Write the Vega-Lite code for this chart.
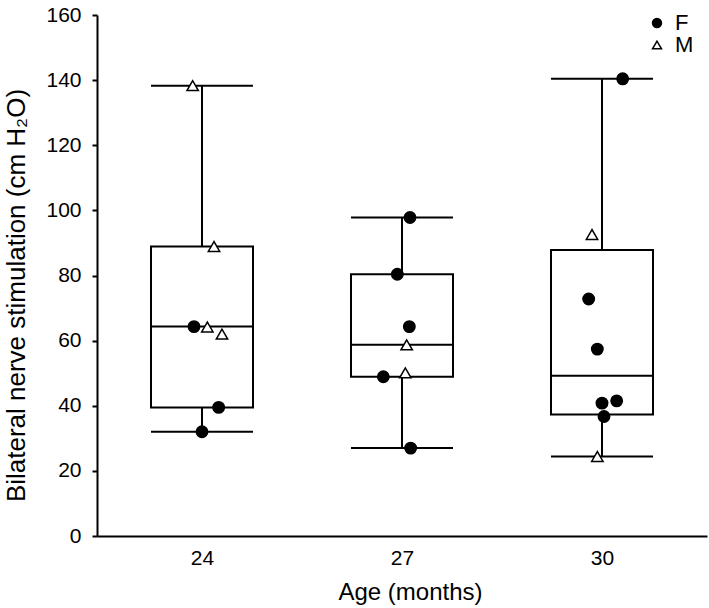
{
  "$schema": "https://vega.github.io/schema/vega-lite/v6.json",
  "width": 610,
  "height": 521,
  "autosize": {"type": "none"},
  "padding": {"left": 97, "top": 15, "right": 2, "bottom": 72},
  "background": "white",
  "config": {
    "view": {"stroke": null},
    "font": "Liberation Sans",
    "axis": {
      "domainColor": "black",
      "domainWidth": 2,
      "tickColor": "black",
      "tickWidth": 2,
      "labelColor": "black",
      "titleColor": "black",
      "grid": false,
      "labelFont": "Liberation Sans",
      "titleFont": "Liberation Sans",
      "titleFontWeight": "normal"
    },
    "legend": {
      "padding": 0,
      "rowPadding": 0,
      "labelFontSize": 22,
      "labelColor": "black",
      "labelFont": "Liberation Sans",
      "labelOffset": 7,
      "symbolSize": 80,
      "symbolStrokeWidth": 1.5,
      "symbolOpacity": 1
    }
  },
  "datasets": {
    "boxes": [
      {"age": 24, "min": 32.0, "q1": 39.5, "median": 64.3, "q3": 88.9, "max": 138.3},
      {"age": 27, "min": 27.0, "q1": 48.9, "median": 58.7, "q3": 80.4, "max": 97.8},
      {"age": 30, "min": 24.4, "q1": 37.3, "median": 49.2, "q3": 87.8, "max": 140.4}
    ],
    "points": [
      {"age": 24, "xj": 23.86, "sex": "M", "value": 138.3},
      {"age": 24, "xj": 24.18, "sex": "M", "value": 88.9},
      {"age": 24, "xj": 23.88, "sex": "F", "value": 64.3},
      {"age": 24, "xj": 24.08, "sex": "M", "value": 64.2},
      {"age": 24, "xj": 24.30, "sex": "M", "value": 62.0},
      {"age": 24, "xj": 24.25, "sex": "F", "value": 39.5},
      {"age": 24, "xj": 24.00, "sex": "F", "value": 32.0},
      {"age": 27, "xj": 27.12, "sex": "F", "value": 97.8},
      {"age": 27, "xj": 26.93, "sex": "F", "value": 80.4},
      {"age": 27, "xj": 27.11, "sex": "F", "value": 64.3},
      {"age": 27, "xj": 27.07, "sex": "M", "value": 58.7},
      {"age": 27, "xj": 26.72, "sex": "F", "value": 48.9},
      {"age": 27, "xj": 27.05, "sex": "M", "value": 50.1},
      {"age": 27, "xj": 27.13, "sex": "F", "value": 27.0},
      {"age": 30, "xj": 30.31, "sex": "F", "value": 140.4},
      {"age": 30, "xj": 29.85, "sex": "M", "value": 92.6},
      {"age": 30, "xj": 29.80, "sex": "F", "value": 72.8},
      {"age": 30, "xj": 29.93, "sex": "F", "value": 57.4},
      {"age": 30, "xj": 30.00, "sex": "F", "value": 40.8},
      {"age": 30, "xj": 30.22, "sex": "F", "value": 41.5},
      {"age": 30, "xj": 30.03, "sex": "F", "value": 36.7},
      {"age": 30, "xj": 29.93, "sex": "M", "value": 24.4}
    ]
  },
  "encoding": {
    "x": {
      "field": "age",
      "type": "quantitative",
      "scale": {"domain": [22.5, 31.5], "nice": false, "zero": false},
      "axis": {
        "title": "Age (months)",
        "values": [24, 27, 30],
        "format": "d",
        "ticks": false,
        "labelFontSize": 21,
        "labelPadding": 11,
        "titleFontSize": 24,
        "titlePadding": 12,
        "titleX": 313
      }
    }
  },
  "layer": [
    {
      "data": {"name": "boxes"},
      "mark": {"type": "rule", "color": "black", "strokeWidth": 2},
      "encoding": {
        "y": {
          "field": "min",
          "type": "quantitative",
          "scale": {"domain": [0, 160], "nice": false},
          "axis": {
            "title": "Bilateral nerve stimulation (cm H₂O)",
            "values": [0, 20, 40, 60, 80, 100, 120, 140, 160],
            "tickSize": 5,
            "labelFontSize": 21,
            "labelPadding": 11,
            "titleFontSize": 26,
            "titleX": -73,
            "titleY": 280,
            "titleBaseline": "alphabetic",
            "titleAlign": "center",
            "titleAngle": -90
          }
        },
        "y2": {"field": "max"}
      }
    },
    {
      "data": {"name": "boxes"},
      "mark": {"type": "bar", "size": 102, "fill": "white", "stroke": "black", "strokeWidth": 2},
      "encoding": {
        "y": {"field": "q1", "type": "quantitative"},
        "y2": {"field": "q3"}
      }
    },
    {
      "data": {"name": "boxes"},
      "mark": {"type": "tick", "orient": "horizontal", "size": 102, "thickness": 2, "color": "black", "opacity": 1},
      "encoding": {"y": {"field": "median", "type": "quantitative"}}
    },
    {
      "data": {"name": "boxes"},
      "mark": {"type": "tick", "orient": "horizontal", "size": 102, "thickness": 2, "color": "black", "opacity": 1},
      "encoding": {"y": {"field": "min", "type": "quantitative"}}
    },
    {
      "data": {"name": "boxes"},
      "mark": {"type": "tick", "orient": "horizontal", "size": 102, "thickness": 2, "color": "black", "opacity": 1},
      "encoding": {"y": {"field": "max", "type": "quantitative"}}
    },
    {
      "data": {"name": "points"},
      "mark": {"type": "point", "filled": true, "strokeWidth": 1.5, "size": 130, "opacity": 1},
      "encoding": {
        "x": {"field": "xj", "type": "quantitative"},
        "y": {"field": "value", "type": "quantitative"},
        "shape": {
          "field": "sex",
          "type": "nominal",
          "scale": {"domain": ["F", "M"], "range": ["circle", "triangle-up"]},
          "legend": {"title": null, "orient": "none", "legendX": 549, "legendY": -3}
        },
        "fill": {
          "field": "sex",
          "type": "nominal",
          "scale": {"domain": ["F", "M"], "range": ["black", "white"]},
          "legend": {"title": null, "orient": "none", "legendX": 549, "legendY": -3}
        },
        "stroke": {
          "field": "sex",
          "type": "nominal",
          "scale": {"domain": ["F", "M"], "range": ["black", "black"]},
          "legend": {"title": null, "orient": "none", "legendX": 549, "legendY": -3}
        }
      }
    }
  ]
}
